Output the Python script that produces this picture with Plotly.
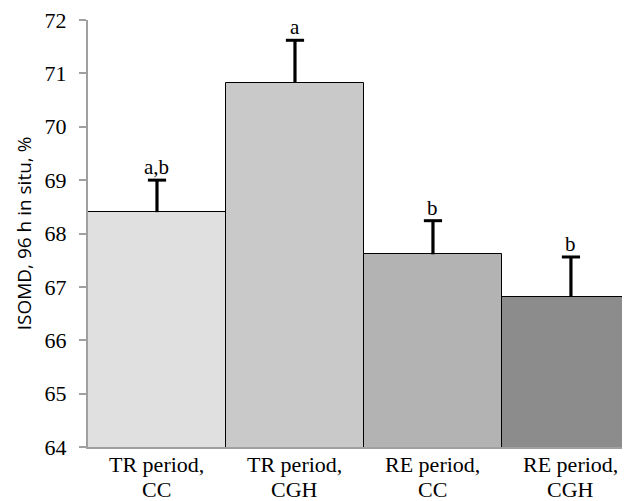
import plotly.graph_objects as go

label_line1 = ["TR period,", "TR period,", "RE period,", "RE period,"]
label_line2 = ["CC", "CGH", "CC", "CGH"]
values = [68.4, 70.82, 67.61, 66.81]
errors = [0.6, 0.8, 0.63, 0.75]
letters = ["a,b", "a", "b", "b"]
colors = ["#e0e0e0", "#c9c9c9", "#b3b3b3", "#8c8c8c"]
y_ticks = [64, 65, 66, 67, 68, 69, 70, 71, 72]

xpos = list(range(len(values)))
tops = [v + e for v, e in zip(values, errors)]
serif = "Liberation Serif"

fig = go.Figure()
fig.add_trace(go.Bar(
    x=xpos, y=values, width=1.0,
    marker=dict(color=colors, line=dict(color="#000000", width=1)),
    error_y=dict(type="data", symmetric=False, array=errors,
                 arrayminus=[0] * len(errors), color="#000000",
                 thickness=3.2, width=0),
    showlegend=False, hoverinfo="skip",
))
# caps of the error bars (top only)
fig.add_trace(go.Scatter(
    x=xpos, y=tops, mode="markers",
    marker=dict(symbol="line-ew", size=13, color="#000000",
                line=dict(color="#000000", width=3)),
    showlegend=False, hoverinfo="skip", cliponaxis=False,
))

for xi, t, lt in zip(xpos, tops, letters):
    fig.add_annotation(x=xi, y=t, text=lt, showarrow=False,
                       yanchor="bottom", yshift=-1,
                       font=dict(family=serif, size=21, color="#000"))

for xi, l1, l2 in zip(xpos, label_line1, label_line2):
    fig.add_annotation(x=xi, y=0, yref="paper", text=l1, showarrow=False,
                       yanchor="middle", yshift=-17,
                       font=dict(family=serif, size=22, color="#000"))
    fig.add_annotation(x=xi, y=0, yref="paper", text=l2, showarrow=False,
                       yanchor="middle", yshift=-42,
                       font=dict(family=serif, size=22, color="#000"))

fig.update_layout(
    width=622, height=493,
    margin=dict(l=80, r=0, t=12, b=54),
    plot_bgcolor="white", paper_bgcolor="white",
    bargap=0,
    xaxis=dict(
        range=[-0.5, 3.428], tickmode="array", tickvals=xpos,
        showticklabels=False, automargin=False,
        showline=True, linecolor="#a0a0a0", linewidth=2, showgrid=False,
        ticks="", zeroline=False,
    ),
    yaxis=dict(
        range=[64, 72], tickmode="array", tickvals=y_ticks, automargin=False,
        showline=True, linecolor="#a0a0a0", linewidth=2,
        ticks="outside", ticklen=7, tickcolor="#a0a0a0", tickwidth=2,
        ticklabelstandoff=8, ticklabeloverflow="allow",
        showgrid=False, zeroline=False,
        tickfont=dict(family=serif, size=22, color="#000"),
        title=dict(text="ISOMD, 96 h in situ, %",
                   font=dict(family="Open Sans", size=19, color="#000"), standoff=8),
    ),
)

fig.write_html("out.html")
